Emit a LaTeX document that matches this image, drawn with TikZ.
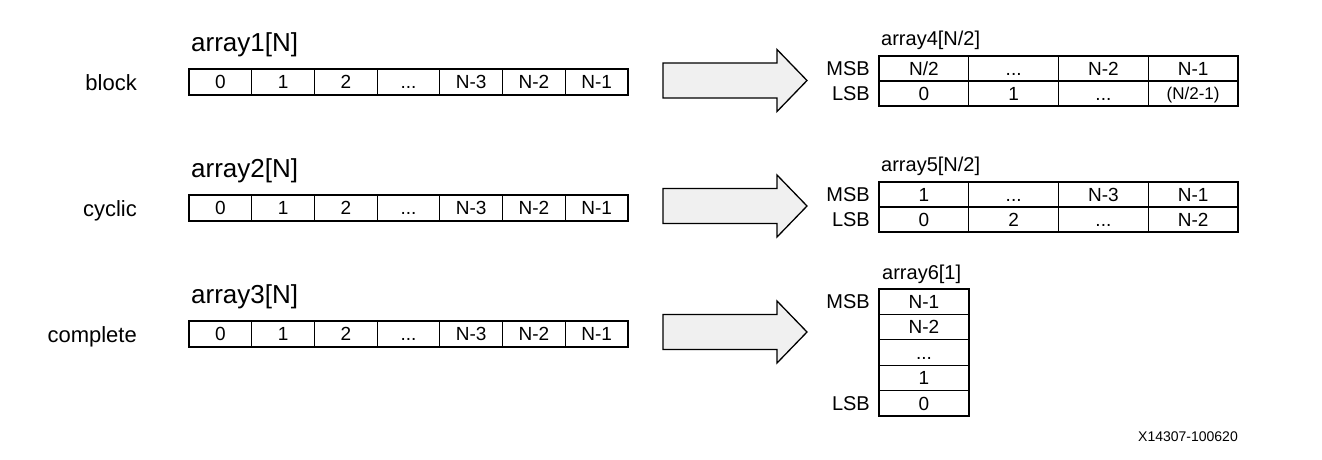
\documentclass[tikz,border=0pt]{standalone}
\usepackage{fontspec}
\setmainfont{Liberation Sans}
\newcommand{\dd}{...}
\begin{document}
\begin{tikzpicture}[x=1pt,y=-1pt,
  cell/.style={draw=black, line width=1.2pt, rectangle, inner sep=0pt, outer sep=0pt,
    anchor=north west, text height=13.7pt, text depth=0pt, font=\fontsize{19}{22}\selectfont},
  lcell/.style={cell, minimum width=62.714pt, minimum height=26pt},
  rcell/.style={cell, minimum width=89.75pt, minimum height=25pt},
  vcell/.style={cell, minimum width=90pt, minimum height=25.4pt},
  bigtitle/.style={anchor=base west, inner sep=0pt, font=\fontsize{26}{30}\selectfont},
  smalltitle/.style={anchor=base west, inner sep=0pt, font=\fontsize{20}{24}\selectfont},
  rowlabel/.style={anchor=base east, inner sep=0pt, font=\fontsize{22}{26}\selectfont},
  bitlabel/.style={anchor=east, inner sep=0pt, font=\fontsize{20}{24}\selectfont},
  bigarrow/.style={draw=black, line width=1.3pt, fill=black!6, line join=miter}]
\useasboundingbox (0,0) rectangle (1322,459);
\fill[white] (0,0) rectangle (1322,459);

% ---- left arrays ----
\foreach \r/\yy/\ttl/\lab in {1/69/{array1[N]}/block, 2/195/{array2[N]}/cyclic, 3/321/{array3[N]}/complete}{
  \node[bigtitle] (title\r) at (191,\yy-18) {\ttl};
  \node[rowlabel] (lab\r) at (137,\yy+21) {\lab};
  \foreach \i/\t in {0/0,1/1,2/2,3/\dd,4/N-3,5/N-2,6/N-1}{
    \node[lcell] (l\r-\i) at ({189+\i*62.714},\yy) {\t};
  }
}

% ---- block arrows ----
\foreach \k/\yc in {1/80.5, 2/206, 3/332}{
  \coordinate (arr\k) at (663,\yc);
  \draw[bigarrow] (663,\yc-17.5) -- (777,\yc-17.5) -- (777,\yc-31) -- (807,\yc)
     -- (777,\yc+31) -- (777,\yc+17.5) -- (663,\yc+17.5) -- cycle;
}

% ---- array4 ----
\node[smalltitle] (t4) at (881,45) {array4[N/2]};
\node[bitlabel] (m4) at (870,68.5) {MSB};
\node[bitlabel] (s4) at (870,93.5) {LSB};
\foreach \i/\t in {0/N\slash 2,1/\dd,2/N-2,3/N-1}{
  \node[rcell] (a4m\i) at ({879+\i*89.75},56) {\t};
}
\foreach \i/\t in {0/0,1/1,2/\dd}{
  \node[rcell] (a4l\i) at ({879+\i*89.75},81) {\t};
}
\node[rcell, font=\fontsize{17}{20}\selectfont, text height=12.5pt] (a4l3) at ({879+3*89.75},81) {(N/2-1)};

% ---- array5 ----
\node[smalltitle] (t5) at (881,171) {array5[N/2]};
\node[bitlabel] (m5) at (870,194.5) {MSB};
\node[bitlabel] (s5) at (870,219.5) {LSB};
\foreach \i/\t in {0/1,1/\dd,2/N-3,3/N-1}{
  \node[rcell] (a5m\i) at ({879+\i*89.75},182) {\t};
}
\foreach \i/\t in {0/0,1/2,2/\dd,3/N-2}{
  \node[rcell] (a5l\i) at ({879+\i*89.75},207) {\t};
}

% ---- array6 ----
\node[smalltitle] (t6) at (882,279) {array6[1]};
\foreach \i/\t in {0/N-1,1/N-2,2/\dd,3/1,4/0}{
  \node[vcell] (a6c\i) at (879,{289+\i*25.4}) {\t};
}
\node[bitlabel] (m6) at (870,301.7) {MSB};
\node[bitlabel] (s6) at (870,403.3) {LSB};

% ---- figure id ----
\node[anchor=base east, inner sep=0pt, font=\fontsize{14}{16}\selectfont] (fid) at (1238,441) {X14307-100620};
\end{tikzpicture}
\end{document}
